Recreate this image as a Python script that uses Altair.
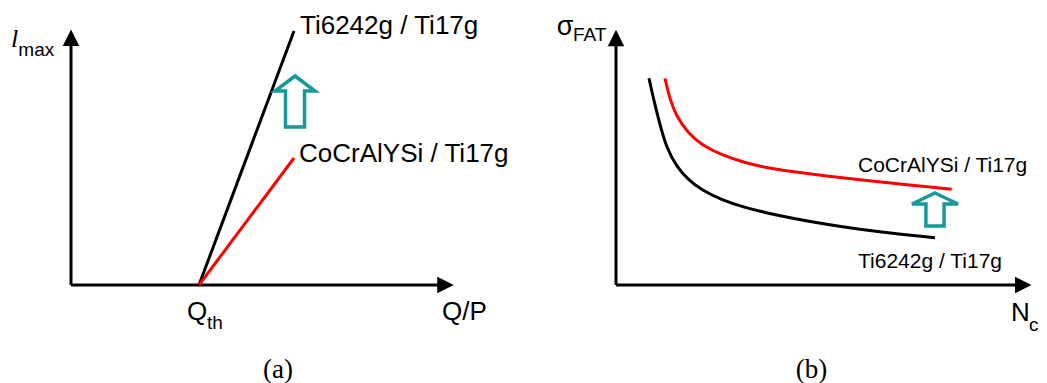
import altair as alt
import pandas as pd

# horizontal offset of each panel's origin (panel b sits to the right of panel a)
PANEL_OFFSET = {"a": 0, "b": 545}

# ---------------- data (schematic units, origin at each panel's axis corner) -------------
# Panel (a): l_max vs Q/P, straight lines starting at Q_th
a_series = ["Ti6242g / Ti17g", "Ti6242g / Ti17g", "CoCrAlYSi / Ti17g", "CoCrAlYSi / Ti17g"]
a_x = [128, 223, 128, 223]
a_y = [0, 254, 0, 127]

# Panel (b): sigma_FAT vs N_c curves
b_black_x = [33, 38, 44, 50.7, 60.7, 72.3, 85.7, 105.7, 129, 149, 177.3, 210.7, 244, 277.3, 319]
b_black_y = [206.7, 184, 160, 136.7, 118.3, 105, 95, 85, 77.5, 72.5, 66.5, 60.5, 55.5, 51.5, 47.3]
b_red_x = [49, 54, 60.7, 72.3, 85.7, 105.7, 129, 149, 177.3, 210.7, 244, 277.3, 335.7]
b_red_y = [206.7, 185, 168.3, 151.7, 140, 130, 122.3, 117.5, 113.2, 109, 105.3, 101.7, 95.7]

# axes lines
axis_panel = ["a", "a", "b", "b"]
axis_x1 = [0, 0, 0, 0]
axis_y1 = [0, 0, 0, 0]
axis_x2 = [374, 0, 406, 0]
axis_y2 = [0, 246, 0, 246]

# axis arrow heads
head_panel = ["a", "a", "b", "b"]
head_x = [374.5, 0, 407.3, 0]
head_y = [0, 247.3, 0, 247]
head_dir = ["right", "up", "right", "up"]

# teal "improvement" arrows
teal_a_x = [224]
teal_a_y = [183.5]
teal_b_x = [319]
teal_b_y = [75.5]

# text labels
sans_panel = ["a", "a", "a", "a", "a", "a", "b", "b", "b", "b", "b", "b"]
sans_text = ["Ti6242g / Ti17g", "CoCrAlYSi / Ti17g", "Q", "th", "Q/P", "max",
             "σ", "FAT", "CoCrAlYSi / Ti17g", "Ti6242g / Ti17g", "N", "c"]
sans_x = [229, 228, 116, 136, 371, -52.7,
          -59.3, -43, 242, 242, 395, 413]
sans_y = [251, 123.3, -35, -44, -35, 229,
          250, 244.3, 113.3, 16.7, -35.7, -46]
sans_size = [26, 26, 26, 19, 26, 19,
             27, 19, 21, 21, 26, 19]

serif_panel = ["a", "b"]
serif_text = ["(a)", "(b)"]
serif_x = [207, 195.5]
serif_y = [-93, -93]

ital_panel = ["a"]
ital_text = ["l"]
ital_x = [-60]
ital_y = [237.7]

# ---------------- tables ----------------
def shift(panels, xs):
    return [x + PANEL_OFFSET[p] for p, x in zip(panels, xs)]

lines_a = pd.DataFrame({
    "series": a_series,
    "px": shift(["a"] * 4, a_x),
    "py": a_y,
})
curves_b = pd.DataFrame({
    "series": ["Ti6242g / Ti17g"] * len(b_black_x) + ["CoCrAlYSi / Ti17g"] * len(b_red_x),
    "px": shift(["b"] * (len(b_black_x) + len(b_red_x)), b_black_x + b_red_x),
    "py": b_black_y + b_red_y,
})
axes = pd.DataFrame({
    "px": shift(axis_panel, axis_x1), "py": axis_y1,
    "px2": shift(axis_panel, axis_x2), "py2": axis_y2,
})
heads = pd.DataFrame({"px": shift(head_panel, head_x), "py": head_y, "dir": head_dir})
teal_a = pd.DataFrame({"px": shift(["a"], teal_a_x), "py": teal_a_y})
teal_b = pd.DataFrame({"px": shift(["b"], teal_b_x), "py": teal_b_y})
sans = pd.DataFrame({"px": shift(sans_panel, sans_x), "py": sans_y,
                     "t": sans_text, "s": sans_size})
serif = pd.DataFrame({"px": shift(serif_panel, serif_x), "py": serif_y, "t": serif_text})
ital = pd.DataFrame({"px": shift(ital_panel, ital_x), "py": ital_y, "t": ital_text})

# ---------------- encodings ----------------
X = alt.X("px:Q", scale=alt.Scale(domain=[-63, 968], nice=False, zero=False), axis=None)
Y = alt.Y("py:Q", scale=alt.Scale(domain=[-98, 277], nice=False, zero=False), axis=None)
COLOR = alt.Color("series:N",
                  scale=alt.Scale(domain=["Ti6242g / Ti17g", "CoCrAlYSi / Ti17g"],
                                  range=["#000000", "#ff0000"]),
                  legend=None)
TEAL = "#17999a"

axis_layer = alt.Chart(axes).mark_rule(color="black", strokeWidth=3).encode(
    x=X, y=Y, x2="px2:Q", y2="py2:Q")

head_up = alt.Chart(heads).transform_filter("datum.dir == 'up'").mark_point(
    shape="M-1,1L0,-1L1,1Z", size=272, filled=True, color="black", opacity=1
).encode(x=X, y=Y)
head_right = alt.Chart(heads).transform_filter("datum.dir == 'right'").mark_point(
    shape="M-1,-1L1,0L-1,1Z", size=272, filled=True, color="black", opacity=1
).encode(x=X, y=Y)

lines_layer = alt.Chart(lines_a).mark_line(strokeWidth=3).encode(
    x=X, y=Y, color=COLOR, order=alt.Order("py:Q"))

curves_layer = alt.Chart(curves_b).mark_line(strokeWidth=3, interpolate="basis").encode(
    x=X, y=Y, color=COLOR)

teal_a_layer = alt.Chart(teal_a).mark_point(
    shape="M0,-1L0.784,-0.412L0.373,-0.412L0.373,1L-0.373,1L-0.373,-0.412L-0.784,-0.412Z",
    size=2601, fill="white", stroke=TEAL, strokeWidth=3.5, opacity=1, filled=False
).encode(x=X, y=Y)
teal_b_layer = alt.Chart(teal_b).mark_point(
    shape="M0,-1L1.394,-0.333L0.55,-0.333L0.55,1L-0.55,1L-0.55,-0.333L-1.394,-0.333Z",
    size=1089, fill="white", stroke=TEAL, strokeWidth=3.5, opacity=1, filled=False
).encode(x=X, y=Y)

sans_layer = alt.Chart(sans).mark_text(
    font="Liberation Sans", align="left", baseline="alphabetic", color="black"
).encode(x=X, y=Y, text="t:N", size=alt.Size("s:Q", scale=None))
serif_layer = alt.Chart(serif).mark_text(
    font="Liberation Serif", fontSize=27, align="center", baseline="alphabetic", color="black"
).encode(x=X, y=Y, text="t:N")
ital_layer = alt.Chart(ital).mark_text(
    font="Liberation Serif", fontStyle="italic", fontSize=26, align="left",
    baseline="alphabetic", color="black"
).encode(x=X, y=Y, text="t:N")

chart = alt.layer(
    axis_layer, head_up, head_right, lines_layer, curves_layer,
    teal_a_layer, teal_b_layer, sans_layer, serif_layer, ital_layer
).properties(
    width=1031, height=375,
    autosize=alt.AutoSizeParams(type="none"),
    padding=0,
    background="white",
).configure_view(stroke=None)

chart.save("out.html", embed_options={"renderer": "svg", "actions": False})
